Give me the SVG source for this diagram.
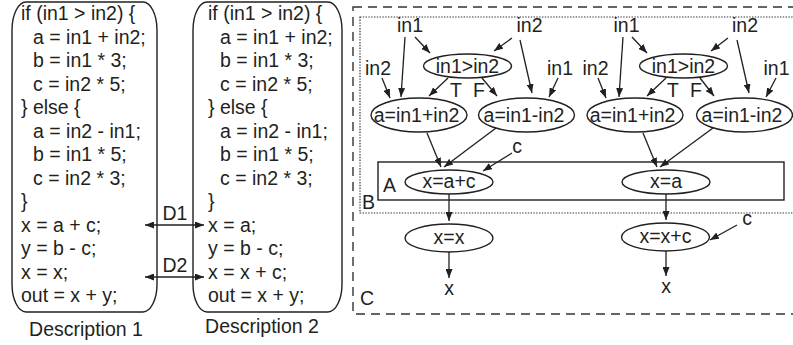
<svg xmlns="http://www.w3.org/2000/svg" width="793" height="345" viewBox="0 0 793 345">
  <style>
    text { font-family: "Liberation Sans", Arial, sans-serif; font-size: 19.5px; fill: #231f20; }
    .mid { text-anchor: middle; }
    .box { fill: none; stroke: #231f20; stroke-width: 1.4; }
    .node ellipse { fill: #fff; stroke: #231f20; stroke-width: 1.4; }
    .edge { fill: none; stroke: #231f20; stroke-width: 1.3; marker-end: url(#ah); }
    .dbl { marker-start: url(#ah); }
    .regionC { fill: none; stroke: #333; stroke-width: 1.4; stroke-dasharray: 9 6; }
    .regionB { fill: none; stroke: #333; stroke-width: 1.2; stroke-dasharray: 1.4 1.4; }
  </style>
  <defs>
    <marker id="ah" viewBox="0 0 9 7" refX="9" refY="3.5" markerWidth="9" markerHeight="7" markerUnits="userSpaceOnUse" orient="auto-start-reverse">
      <path d="M0,0 L9,3.5 L0,7 z" fill="#231f20"/>
    </marker>
  </defs>

  <!-- Source code of the two descriptions -->
  <g id="description1">
    <path class="box" d="M26,2 H143 A14,28 0 0 1 157,30 V284 A14,28 0 0 1 143,312 H26 A14,28 0 0 1 12,284 V30 A14,28 0 0 1 26,2 Z"/>
    <text x="21" y="20">if (in1 &gt; in2) {
      <tspan x="33" dy="23.5">a = in1 + in2;</tspan>
      <tspan x="33" dy="23.5">b = in1 * 3;</tspan>
      <tspan x="33" dy="23.5">c = in2 * 5;</tspan>
      <tspan x="21" dy="23.5">} else {</tspan>
      <tspan x="33" dy="23.5">a = in2 - in1;</tspan>
      <tspan x="33" dy="23.5">b = in1 * 5;</tspan>
      <tspan x="33" dy="23.5">c = in2 * 3;</tspan>
      <tspan x="21" dy="23.5">}</tspan>
      <tspan x="21" dy="23.5">x = a + c;</tspan>
      <tspan x="21" dy="23.5">y = b - c;</tspan>
      <tspan x="21" dy="23.5">x = x;</tspan>
      <tspan x="21" dy="23.5">out = x + y;</tspan>
    </text>
    <text class="mid" x="86" y="336">Description 1</text>
  </g>

  <g id="description2">
    <path class="box" d="M207,2 H328 A14,28 0 0 1 342,30 V284 A14,28 0 0 1 328,312 H207 A14,28 0 0 1 193,284 V30 A14,28 0 0 1 207,2 Z"/>
    <text x="208" y="20">if (in1 &gt; in2) {
      <tspan x="220" dy="23.5">a = in1 + in2;</tspan>
      <tspan x="220" dy="23.5">b = in1 * 3;</tspan>
      <tspan x="220" dy="23.5">c = in2 * 5;</tspan>
      <tspan x="208" dy="23.5">} else {</tspan>
      <tspan x="220" dy="23.5">a = in2 - in1;</tspan>
      <tspan x="220" dy="23.5">b = in1 * 5;</tspan>
      <tspan x="220" dy="23.5">c = in2 * 3;</tspan>
      <tspan x="208" dy="23.5">}</tspan>
      <tspan x="208" dy="23.5">x = a;</tspan>
      <tspan x="208" dy="23.5">y = b - c;</tspan>
      <tspan x="208" dy="23.5">x = x + c;</tspan>
      <tspan x="208" dy="23.5">out = x + y;</tspan>
    </text>
    <text class="mid" x="262" y="333">Description 2</text>
  </g>

  <!-- Nested regions C (dashed), B (dotted), A (solid) -->
  <g id="regions">
    <rect class="regionC" x="353" y="7" width="460" height="307"/>
    <rect class="regionB" x="360" y="17" width="450" height="196"/>
    <rect class="box" x="378" y="162" width="406" height="38"/>
    <text x="383" y="192">A</text>
    <text x="362" y="209">B</text>
    <text x="360" y="305">C</text>
  </g>

  <!-- Left data-flow graph -->
  <g id="in1_top_L" class="node"><text class="mid" x="410" y="32">in1</text></g>
  <g id="in2_top_L" class="node"><text class="mid" x="529.5" y="32">in2</text></g>
  <g id="in2_side_L" class="node"><text class="mid" x="378" y="75">in2</text></g>
  <g id="in1_side_L" class="node"><text class="mid" x="560" y="75">in1</text></g>
  <g id="cmp_L" class="node">
    <ellipse cx="467.5" cy="66" rx="44" ry="12"/>
    <text class="mid" x="467.5" y="73">in1&gt;in2</text>
  </g>
  <g id="add_L" class="node">
    <ellipse cx="419" cy="115" rx="48" ry="17"/>
    <text class="mid" x="416.5" y="122">a=in1+in2</text>
  </g>
  <g id="sub_L" class="node">
    <ellipse cx="526.5" cy="115" rx="48" ry="17"/>
    <text class="mid" x="524" y="122">a=in1-in2</text>
  </g>
  <g id="xac" class="node">
    <ellipse cx="449" cy="182" rx="44" ry="12"/>
    <text class="mid" x="449" y="188">x=a+c</text>
  </g>
  <g id="c_L" class="node"><text class="mid" x="517" y="153">c</text></g>
  <g id="xx" class="node">
    <ellipse cx="449" cy="238" rx="44" ry="14"/>
    <text class="mid" x="449" y="244">x=x</text>
  </g>
  <g id="out_L" class="node"><text class="mid" x="449" y="295">x</text></g>

  <!-- Right data-flow graph -->
  <g id="in1_top_R" class="node"><text class="mid" x="626.5" y="32">in1</text></g>
  <g id="in2_top_R" class="node"><text class="mid" x="745" y="32">in2</text></g>
  <g id="in2_side_R" class="node"><text class="mid" x="595.5" y="75">in2</text></g>
  <g id="in1_side_R" class="node"><text class="mid" x="776.5" y="75">in1</text></g>
  <g id="cmp_R" class="node">
    <ellipse cx="683.5" cy="66" rx="44" ry="12"/>
    <text class="mid" x="683.5" y="73">in1&gt;in2</text>
  </g>
  <g id="add_R" class="node">
    <ellipse cx="635" cy="115" rx="48" ry="17"/>
    <text class="mid" x="632.5" y="122">a=in1+in2</text>
  </g>
  <g id="sub_R" class="node">
    <ellipse cx="744.5" cy="115" rx="48" ry="17"/>
    <text class="mid" x="742" y="122">a=in1-in2</text>
  </g>
  <g id="xa" class="node">
    <ellipse cx="666" cy="182" rx="44" ry="12"/>
    <text class="mid" x="666" y="188">x=a</text>
  </g>
  <g id="xxc" class="node">
    <ellipse cx="665.5" cy="237" rx="44" ry="14"/>
    <text class="mid" x="665.5" y="243">x=x+c</text>
  </g>
  <g id="c_R" class="node"><text class="mid" x="747" y="225">c</text></g>
  <g id="out_R" class="node"><text class="mid" x="666" y="293">x</text></g>

  <!-- Connectors -->
  <g id="connectors">
    <!-- correspondences between the descriptions -->
    <line class="edge dbl" x1="145" y1="225" x2="204" y2="225"/>
    <text class="mid" x="175" y="220">D1</text>
    <line class="edge dbl" x1="145" y1="277" x2="204" y2="277"/>
    <text class="mid" x="175" y="272">D2</text>

    <!-- left graph -->
    <line class="edge" x1="405" y1="37" x2="401" y2="97"/>
    <line class="edge" x1="415" y1="37" x2="430" y2="53"/>
    <line class="edge" x1="512" y1="38" x2="494" y2="51"/>
    <line class="edge" x1="520" y1="40" x2="532" y2="93"/>
    <line class="edge" x1="382" y1="78" x2="390" y2="98"/>
    <line class="edge" x1="558" y1="78" x2="549" y2="97"/>
    <line class="edge" x1="448" y1="78" x2="429" y2="96"/>
    <text x="450" y="97">T</text>
    <line class="edge" x1="482" y1="78" x2="497" y2="96"/>
    <text x="473" y="97">F</text>
    <line class="edge" x1="427" y1="133" x2="441" y2="167"/>
    <line class="edge" x1="496" y1="128" x2="444" y2="167"/>
    <line class="edge" x1="512" y1="153" x2="483" y2="171"/>
    <line class="edge" x1="449" y1="194" x2="449" y2="221"/>
    <line class="edge" x1="449" y1="252" x2="449" y2="278"/>

    <!-- right graph -->
    <line class="edge" x1="623" y1="37" x2="619" y2="97"/>
    <line class="edge" x1="632" y1="37" x2="647" y2="53"/>
    <line class="edge" x1="728" y1="38" x2="711" y2="51"/>
    <line class="edge" x1="737" y1="40" x2="749" y2="93"/>
    <line class="edge" x1="598" y1="78" x2="606" y2="98"/>
    <line class="edge" x1="776" y1="78" x2="766" y2="97"/>
    <line class="edge" x1="666" y1="78" x2="647" y2="96"/>
    <text x="667" y="97">T</text>
    <line class="edge" x1="700" y1="78" x2="714" y2="96"/>
    <text x="690" y="97">F</text>
    <line class="edge" x1="643" y1="133" x2="657" y2="167"/>
    <line class="edge" x1="713" y1="128" x2="660" y2="167"/>
    <line class="edge" x1="666" y1="194" x2="666" y2="220"/>
    <line class="edge" x1="737" y1="225" x2="710" y2="240"/>
    <line class="edge" x1="666" y1="251" x2="666" y2="276"/>
  </g>
</svg>
